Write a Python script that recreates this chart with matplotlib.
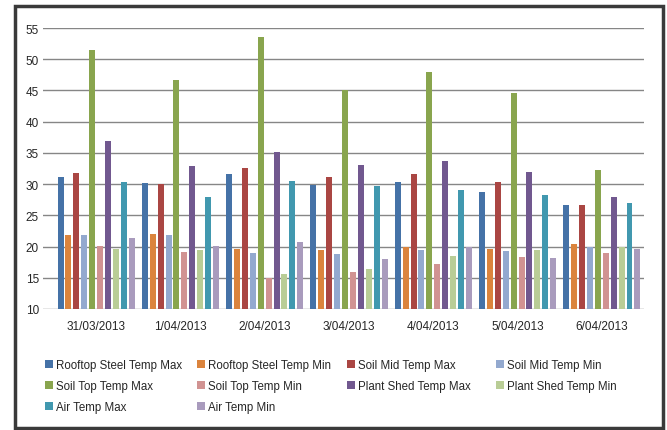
import numpy as np
import matplotlib
matplotlib.use('Agg')
from matplotlib import pyplot as plt
from matplotlib.patches import Rectangle

# Dates on the x axis
dates = ['31/03/2013', '1/04/2013', '2/04/2013', '3/04/2013',
         '4/04/2013', '5/04/2013', '6/04/2013']

# Series
rooftop_max = [31.2, 30.2, 31.6, 29.9, 30.4, 28.8, 26.7]
rooftop_min = [21.9, 22.0, 19.6, 19.5, 19.9, 19.6, 20.4]
soil_mid_max = [31.8, 30.0, 32.6, 31.2, 31.6, 30.4, 26.7]
soil_mid_min = [21.9, 21.9, 19.0, 18.8, 19.5, 19.3, 19.9]
soil_top_max = [51.5, 46.7, 53.5, 45.0, 48.0, 44.6, 32.3]
soil_top_min = [20.1, 19.1, 15.0, 15.9, 17.2, 18.3, 19.0]
plant_max = [36.9, 32.9, 35.2, 33.1, 33.7, 32.0, 28.0]
plant_min = [19.6, 19.5, 15.6, 16.4, 18.5, 19.5, 19.9]
air_max = [30.4, 28.0, 30.5, 29.7, 29.1, 28.3, 27.0]
air_min = [21.4, 20.1, 20.7, 18.0, 19.9, 18.2, 19.6]

names = ['Rooftop Steel Temp Max', 'Rooftop Steel Temp Min', 'Soil Mid Temp Max',
         'Soil Mid Temp Min', 'Soil Top Temp Max', 'Soil Top Temp Min',
         'Plant Shed Temp Max', 'Plant Shed Temp Min', 'Air Temp Max', 'Air Temp Min']
series = [rooftop_max, rooftop_min, soil_mid_max, soil_mid_min, soil_top_max,
          soil_top_min, plant_max, plant_min, air_max, air_min]
colors = ['#4572A7', '#DB843D', '#AA4643', '#93A9CF', '#89A54E',
          '#D19392', '#71588F', '#B9CD96', '#4198AF', '#A99BBD']

plt.rcParams['font.family'] = ['Liberation Sans', 'DejaVu Sans']

fig = plt.figure(figsize=(6.67, 4.31), dpi=100)
ax = fig.add_axes([43/667, 1 - 310/431, 601/667, 281/431])

x = np.arange(len(dates))
slot = 0.0937
bw = 0.071
handles = []
for i, (s, c, nm) in enumerate(zip(series, colors, names)):
    off = (i - 4.5) * slot
    b = ax.bar(x + off, np.array(s) - 10, bottom=10, width=bw, color=c, label=nm, zorder=3)
    handles.append(b)

ax.set_xlim(-0.63, len(dates) - 0.5)
ax.set_ylim(10, 55)
ax.set_yticks(np.arange(10, 56, 5))
ax.yaxis.grid(True, color='#868686', linewidth=1.0, zorder=0)
for sp in ax.spines.values():
    sp.set_visible(False)
ax.tick_params(axis='both', length=0, labelsize=8.5, colors='#262626')
ax.tick_params(axis='y', pad=3)
ax.tick_params(axis='x', pad=8)
ax.set_xticks(x)
ax.set_xticklabels(dates)

# legend: 4 fixed-width columns, filled row by row
col_x = [40, 192, 342, 491]
for col in range(4):
    idx = list(range(col, len(names), 4))
    lg = fig.legend([handles[k] for k in idx], [names[k] for k in idx],
                    loc='upper left', bbox_to_anchor=(col_x[col]/667, 1 - 355/431),
                    frameon=False, fontsize=8.3, handlelength=0.7, handleheight=0.7,
                    handletextpad=0.3, labelspacing=0.78, borderaxespad=0)
    for t in lg.get_texts():
        t.set_color('#262626')

# outer border of the chart
fig.patches.append(Rectangle((15/667, 1 - 429/431), 648/667, 422/431,
                             transform=fig.transFigure, fill=False,
                             edgecolor='#3a3a3a', linewidth=2.5))

fig.savefig('out.png', dpi=100)
